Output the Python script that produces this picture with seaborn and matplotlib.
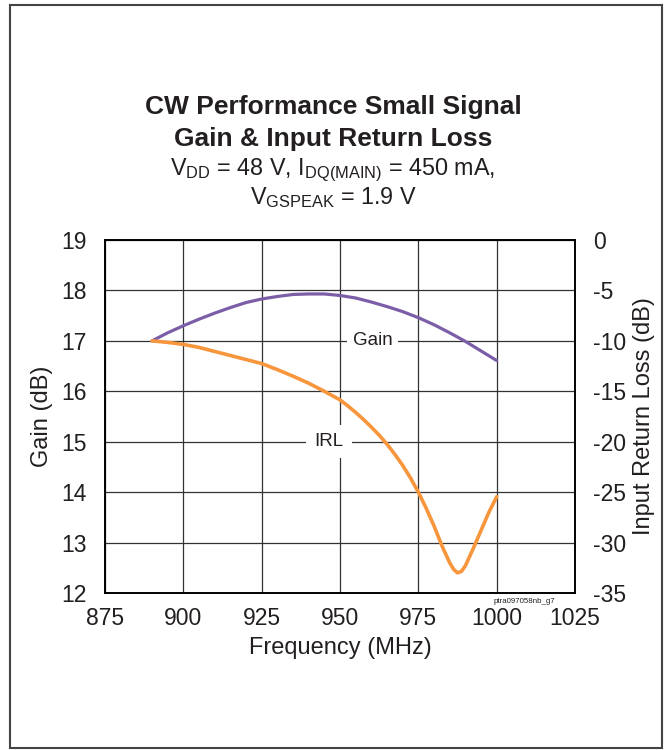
import matplotlib
matplotlib.use("Agg")
import matplotlib.pyplot as plt
import seaborn as sns
import pandas as pd
from matplotlib.patches import Rectangle

# datos
gain_freq = [890, 895, 900, 905, 910, 915, 920, 925, 930, 935, 940, 945,
             950, 955, 960, 965, 970, 975, 980, 985, 990, 995, 1000]
gain_db = [17.00, 17.16, 17.30, 17.43, 17.55, 17.66, 17.76, 17.83, 17.88, 17.92,
           17.93, 17.93, 17.90, 17.85, 17.77, 17.68, 17.58, 17.46, 17.32, 17.16,
           16.99, 16.80, 16.61]

irl_freq = [890, 895, 900, 905, 910, 915, 920, 925, 930, 935, 940, 945, 950,
            952.5, 955, 957.5, 960, 962.5, 965, 967.5, 970, 972.5, 975, 977.5,
            980, 982.5, 985, 986.25, 987.5, 988.75, 990, 992.5, 995, 997.5, 1000]
irl_db = [-10.0, -10.15, -10.35, -10.65, -11.05, -11.45, -11.85, -12.25, -12.85,
          -13.5, -14.2, -15.0, -15.85, -16.45, -17.1, -17.8, -18.55, -19.35,
          -20.25, -21.25, -22.35, -23.6, -25.0, -26.6, -28.35, -30.3, -32.0,
          -32.65, -33.0, -32.85, -32.3, -30.6, -28.8, -27.0, -25.45]

x_ticks = [875, 900, 925, 950, 975, 1000, 1025]
gain_ticks = [12, 13, 14, 15, 16, 17, 18, 19]
irl_ticks = [-35, -30, -25, -20, -15, -10, -5, 0]

df_gain = pd.DataFrame({"Frequency": gain_freq, "Gain": gain_db})
df_irl = pd.DataFrame({"Frequency": irl_freq, "IRL": irl_db})

sns.set_style("white")
plt.rcParams["font.family"] = ["Liberation Sans", "DejaVu Sans"]
plt.rcParams["mathtext.fontset"] = "custom"
plt.rcParams["mathtext.rm"] = "Liberation Sans"
plt.rcParams["axes.unicode_minus"] = False
txt = "#231f20"

fig = plt.figure(figsize=(6.66, 7.5), dpi=100)
ax = fig.add_axes([0.1577, 0.2093, 0.7057, 0.4707])
ax2 = ax.twinx()

sns.lineplot(data=df_gain, x="Frequency", y="Gain", ax=ax, color="#7B5EA7", linewidth=2.3)
sns.lineplot(data=df_irl, x="Frequency", y="IRL", ax=ax2, color="#F7963C", linewidth=2.6)

ax.set_xlim(875, 1025)
ax.set_ylim(12, 19)
ax2.set_ylim(-35, 0)
ax.set_xticks(x_ticks)
ax.set_yticks(gain_ticks)
ax2.set_yticks(irl_ticks)
ax.grid(True, color="#333333", linewidth=0.9)
ax.tick_params(axis="x", length=0, labelsize=16.5, pad=10, labelcolor=txt)
ax.tick_params(axis="y", length=0, labelsize=16.5, pad=13, labelcolor=txt)
ax2.tick_params(axis="y", length=0, labelsize=16.5, pad=13, labelcolor=txt)

ax.set_xlabel("Frequency (MHz)", fontsize=17, labelpad=5, color=txt)
ax.set_ylabel("Gain (dB)", fontsize=17, labelpad=6, color=txt)
ax2.set_ylabel("Input Return Loss (dB)", fontsize=17, labelpad=5, color=txt)

for a in (ax, ax2):
    for s in a.spines.values():
        s.set_color("black")
        s.set_linewidth(1.2)

ax.text(960.5, 17.0, "Gain", fontsize=13.5, ha="center", va="center", color=txt,
        bbox=dict(facecolor="white", edgecolor="none", pad=4), zorder=3)
ax.text(946.5, 15.0, "IRL", fontsize=13.5, ha="center", va="center", color=txt,
        bbox=dict(facecolor="white", edgecolor="none", pad=6), zorder=3)
ax.text(1018.5, 11.84, "ptra097058nb_g7", fontsize=5.7, ha="right", va="center",
        color=txt)

fig.text(0.5, 1 - 107 / 750, "CW Performance Small Signal", fontsize=19,
         fontweight="bold", ha="center", va="center", color=txt)
fig.text(0.5, 1 - 139 / 750, "Gain & Input Return Loss", fontsize=19,
         fontweight="bold", ha="center", va="center", color=txt)
fig.text(0.5, 1 - 170 / 750,
         r"V$_{\mathregular{DD}}$ = 48 V, I$_{\mathregular{DQ(MAIN)}}$ = 450 mA,",
         fontsize=16.8, ha="center", va="center", color=txt)
fig.text(0.5, 1 - 198 / 750, r"V$_{\mathregular{GSPEAK}}$ = 1.9 V",
         fontsize=16.8, ha="center", va="center", color=txt)

# marco exterior
fig.patches.append(Rectangle((10 / 666, 2 / 750), 652 / 666, 743 / 750,
                             transform=fig.transFigure, fill=False,
                             edgecolor="#444444", linewidth=1.5))

fig.savefig("out.png", dpi=100)
